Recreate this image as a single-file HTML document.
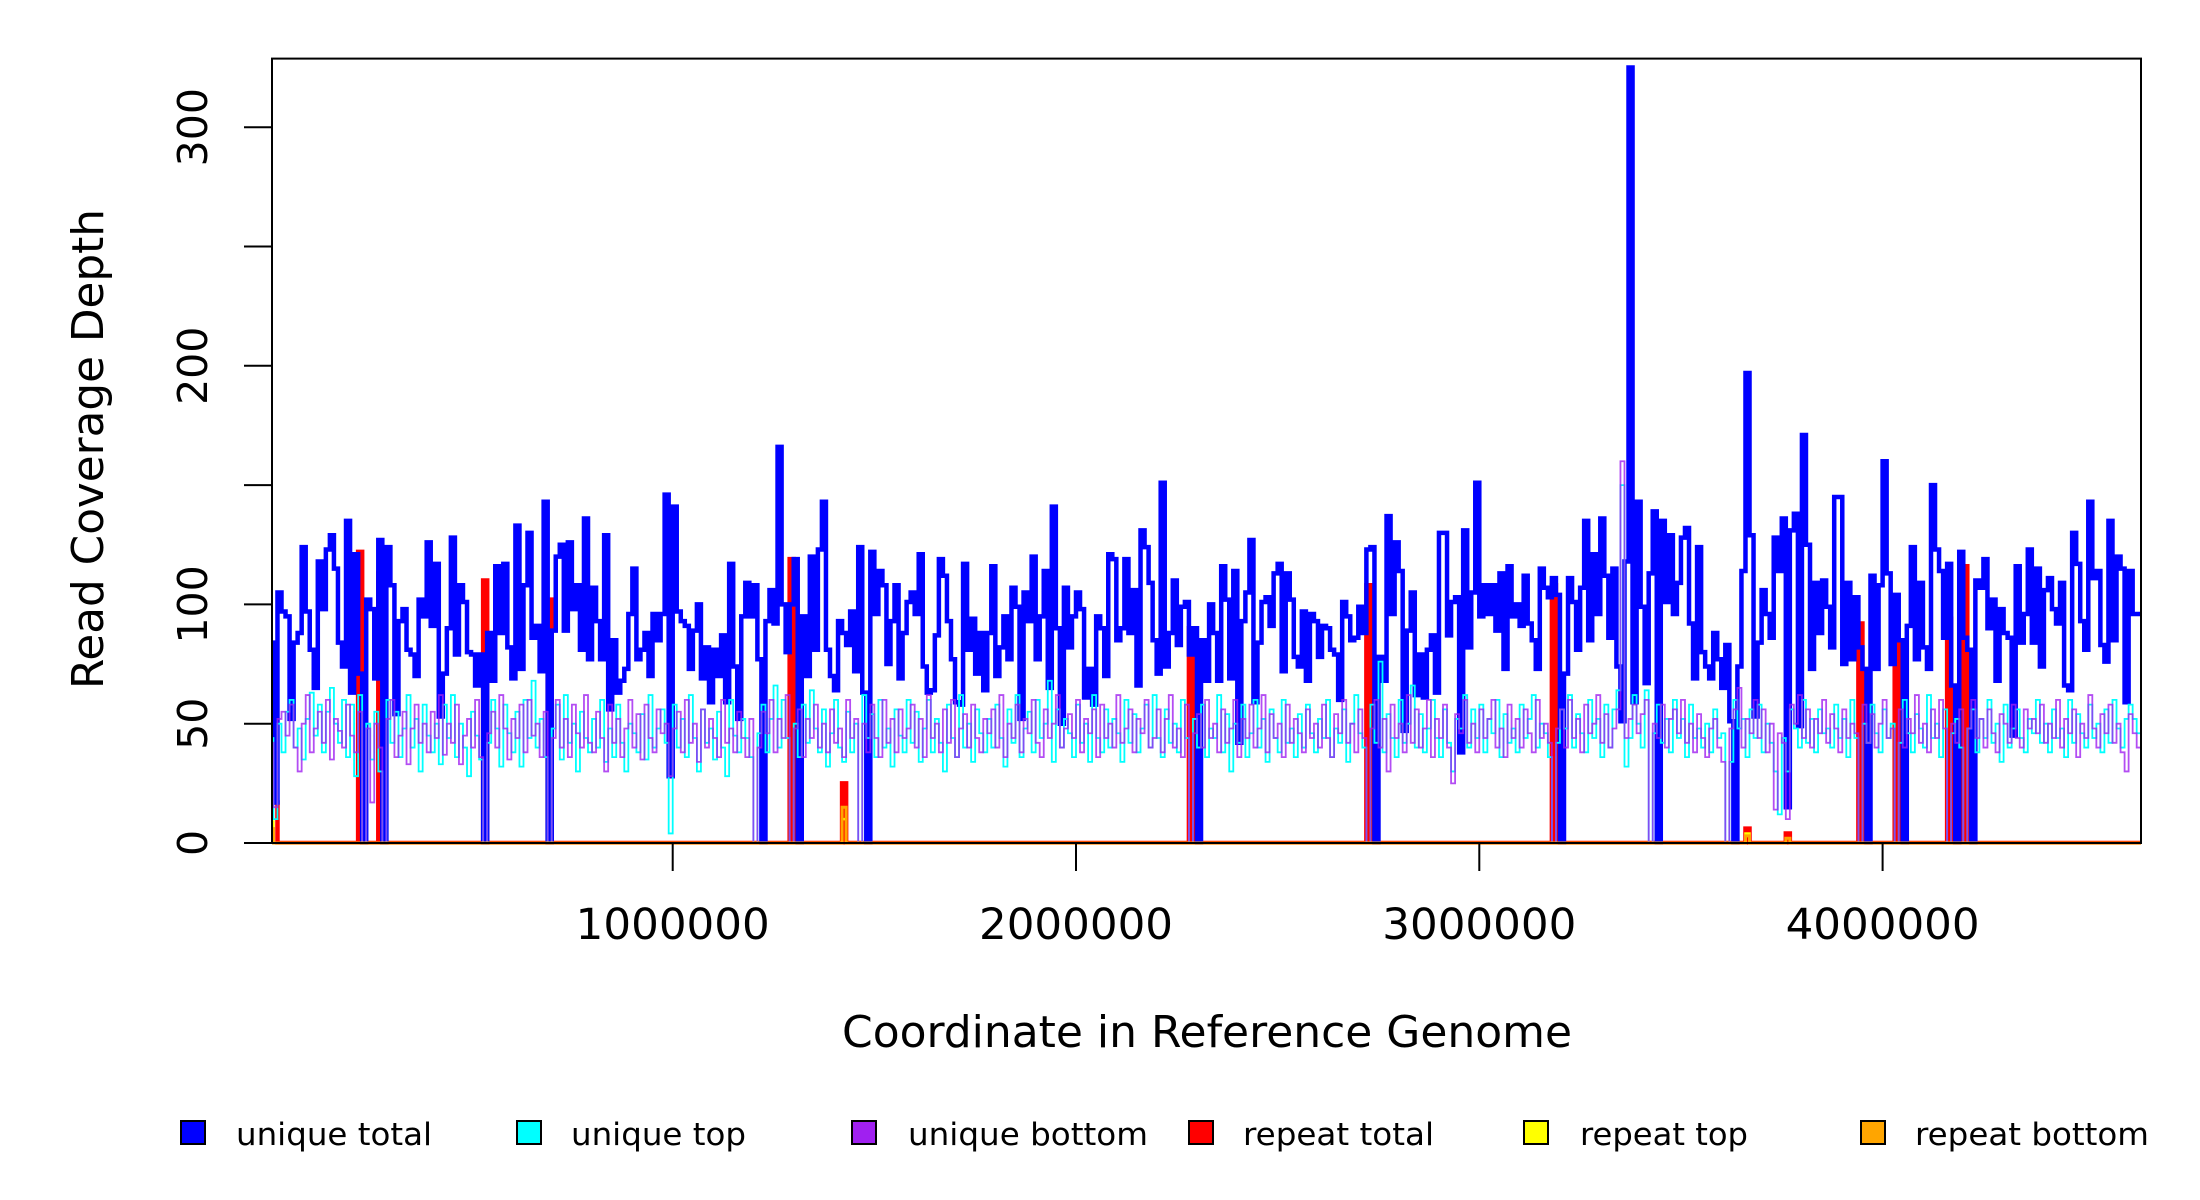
<!DOCTYPE html>
<html><head><meta charset="utf-8"><style>
html,body{margin:0;padding:0;background:#fff;}
svg{display:block;}
text{font-family:"DejaVu Sans","Liberation Sans",sans-serif;fill:#000;}
</style></head><body>
<svg id="chart" width="2200" height="1200" viewBox="0 0 2200 1200" xmlns="http://www.w3.org/2000/svg">
<defs><clipPath id="plotclip"><rect x="272" y="58.6" width="1869" height="786"/></clipPath></defs>
<g id="series" clip-path="url(#plotclip)"></g>
<rect x="272" y="58.6" width="1869" height="784.4" fill="none" stroke="#000" stroke-width="2"/>
<g id="yaxis"></g>
<g id="xaxis"></g>
<text transform="translate(103,449) rotate(-90)" text-anchor="middle" font-size="44" textLength="480" lengthAdjust="spacingAndGlyphs">Read Coverage Depth</text>
<text x="1207" y="1047" text-anchor="middle" font-size="44" textLength="730" lengthAdjust="spacingAndGlyphs">Coordinate in Reference Genome</text>
<g id="legend"></g>
</svg>
<script>
const binSize = 10000;
const yTicks = [0, 50, 100, 150, 200, 250, 300];
const yTickLabels = ["0", "50", "100", "", "200", "", "300"];
const xTicks = [1000000, 2000000, 3000000, 4000000];
const xTickLabels = ["1000000", "2000000", "3000000", "4000000"];
const seriesNames = ["unique total", "unique top", "unique bottom", "repeat total", "repeat top", "repeat bottom"];
const seriesColors = ["#0000ff", "#00ffff", "#a020f0", "#ff0000", "#ffff00", "#ffa500"];

const uniqueTotal = [
84,17,105,97,95,52,84,88,124,97,81,65,118,98,123,129,115,84,74,135,
63,121,71,0,102,98,69,127,0,124,108,54,93,98,81,79,70,102,95,126,
91,117,53,71,90,128,79,108,101,80,79,66,79,0,88,68,116,88,117,82,
69,133,73,108,130,86,91,72,143,0,89,120,125,89,126,98,108,81,136,77,
107,93,77,129,56,85,63,68,73,96,115,77,81,88,70,96,85,96,146,28,
141,97,93,91,73,89,100,69,82,59,81,70,87,59,117,74,52,95,109,
95,108,77,0,93,106,92,166,100,80,100,119,0,95,70,120,81,123,143,
81,70,64,93,88,83,97,72,124,63,0,122,96,114,108,75,93,108,69,88,
101,105,96,121,74,63,64,87,119,112,93,77,59,58,117,81,94,71,88,64,
88,116,70,82,95,77,107,99,52,105,93,120,77,95,114,65,141,90,50,107,
82,95,105,98,61,73,58,95,90,70,121,119,85,90,119,88,106,66,131,124,
109,85,71,151,74,88,110,83,99,101,79,90,0,85,68,100,88,68,116,102,
69,114,42,93,105,127,59,84,101,103,91,113,117,72,113,102,78,74,97,68,
96,93,78,91,90,81,79,60,101,95,85,86,99,88,123,124,0,78,68,137,
96,126,114,47,89,105,62,79,61,81,87,63,130,130,87,101,103,38,131,82,
105,151,95,108,96,108,89,113,73,116,95,100,91,112,92,85,73,115,107,103,
111,104,0,71,111,101,81,107,135,85,121,96,136,112,86,115,74,51,118,325,
59,143,99,67,113,139,0,135,101,129,96,109,128,132,92,69,124,80,74,69,
88,77,65,83,51,0,74,114,197,129,53,84,106,96,86,128,114,136,15,131,
138,49,171,125,73,109,88,110,99,82,145,145,75,109,77,103,82,73,0,112,
73,108,160,113,75,104,85,0,91,124,77,109,82,73,150,123,114,86,117,66,
0,122,86,81,0,110,107,119,90,102,68,98,88,86,45,116,84,96,123,84,
115,74,106,111,98,92,109,66,64,130,117,93,81,143,111,114,83,76,135,85,
120,115,59,114,96,96,96,60
];
const uniqueTop = [
44,10,50,38,55,60,40,48,35,52,63,45,58,38,55,65,50,42,60,36,
58,28,62,0,50,35,55,30,0,60,42,55,36,48,62,40,52,30,58,45,
38,50,33,58,44,62,36,50,40,28,55,45,35,0,42,60,48,32,58,46,
38,55,32,60,44,68,40,52,36,0,48,58,35,62,42,50,30,55,44,38,
52,40,60,34,48,36,58,42,30,50,46,38,54,35,62,40,48,56,42,4,
58,40,52,36,62,44,30,56,42,48,35,55,40,28,60,45,38,52,44,36,
0,46,58,38,52,66,40,60,44,0,50,36,58,42,64,48,38,56,32,
46,60,40,34,55,38,50,0,62,44,54,36,60,40,48,32,56,45,38,60,
42,55,34,48,60,38,52,42,30,58,44,36,62,40,50,34,56,46,38,52,
40,58,44,32,56,42,62,36,48,55,38,60,44,50,68,34,56,40,52,46,
36,58,42,50,34,62,44,38,56,40,52,46,34,60,42,54,38,48,58,40,
62,44,36,56,42,50,38,60,44,0,52,40,58,36,48,44,62,38,54,30,
50,42,58,36,46,60,40,52,34,56,44,38,60,42,48,36,54,40,58,46,
38,52,44,60,36,48,42,56,34,50,62,46,40,0,58,42,76,38,54,44,
36,60,42,50,66,40,54,38,48,60,44,36,56,42,30,52,48,62,40,56,
44,58,38,52,46,60,36,54,42,48,38,58,44,52,62,40,50,46,36,0,
42,56,48,62,40,54,46,38,60,44,52,36,58,40,56,64,150,32,44,62,
50,40,64,0,46,58,42,52,38,60,44,52,36,58,44,48,40,50,38,56,
44,46,0,34,60,48,52,36,56,44,58,38,50,42,30,12,44,30,56,48,
40,60,42,52,38,56,46,48,40,58,44,52,36,60,44,0,50,42,58,46,
38,56,44,50,0,42,60,46,38,54,48,40,62,44,50,36,56,0,46,52,
40,0,48,56,38,52,44,60,42,50,34,58,40,48,56,44,38,52,46,60,
42,50,38,56,44,48,36,60,42,54,46,40,58,44,50,38,56,42,60,48,
40,52,58,52,46
];
const uniqueBottom = [
42,15,52,55,45,58,40,30,50,62,38,48,55,42,60,35,52,47,40,58,
45,38,55,0,48,17,50,40,0,52,60,36,45,55,33,48,58,42,50,38,
55,44,62,37,50,42,58,33,45,52,40,60,36,0,46,55,40,62,48,35,
52,44,58,38,60,45,50,36,55,0,44,60,40,52,36,58,46,40,62,42,
38,55,44,30,58,42,52,36,48,60,40,54,35,58,44,38,56,46,50,28,
48,55,38,60,42,50,34,56,40,52,44,36,60,42,48,38,55,44,36,52,
0,40,55,46,60,38,52,44,62,0,48,56,36,52,44,58,40,50,38,
56,42,48,36,60,44,52,0,50,38,58,44,36,60,42,52,38,56,44,48,
58,40,52,36,62,44,50,38,56,42,60,36,48,54,40,58,44,38,52,46,
56,40,62,36,50,44,58,38,52,46,60,42,36,56,44,50,62,40,48,54,
44,60,38,52,46,56,36,58,44,50,40,62,42,48,56,38,52,46,60,40,
44,56,38,52,62,40,48,36,58,0,46,54,40,60,44,50,38,56,42,48,
60,36,52,44,58,40,48,62,38,54,44,50,36,58,42,52,46,38,56,44,
50,40,58,44,36,54,46,60,42,50,38,56,44,0,48,60,40,52,30,58,
44,50,38,62,42,56,40,48,60,36,52,44,58,40,25,54,46,60,42,50,
38,56,44,52,60,40,48,36,58,44,52,40,56,46,38,60,44,50,42,0,
48,56,40,60,44,52,38,58,46,50,62,42,54,40,48,56,160,44,52,58,
46,54,60,0,50,44,58,40,52,56,46,60,42,50,38,54,44,36,48,52,
40,34,0,48,56,65,40,52,46,60,44,56,38,50,14,46,42,10,58,50,
62,44,56,40,52,46,60,42,54,48,38,56,44,50,46,0,58,42,54,40,
50,60,44,48,0,56,40,52,46,62,42,50,38,56,44,60,48,0,50,42,
56,0,48,60,44,52,40,56,46,38,54,50,42,58,44,40,56,48,52,46,
58,42,50,44,60,40,52,46,56,36,50,44,62,48,40,54,46,58,42,50,
38,30,54,46,40
];
const repeatTotalBins = [0,1,22,27,53,69,129,142,228,272,318,366,376,394,403,416,420];
const repeatTotalVals = [17,17,122,113,110,102,119,25,90,108,108,6,4,92,95,94,116];
const repeatTopBins = [0,142,366,376];
const repeatTopVals = [9,10,4,2];
const repeatBottomBins = [0,142,366,376];
const repeatBottomVals = [6,15,3,2];

const NS = "http://www.w3.org/2000/svg";
const X0 = 269.4, PX_PER_BP = 403.3e-6, Y0 = 843, PX_PER_UNIT = 2.386;
function xScale(bp){ return X0 + bp * PX_PER_BP; }
function yScale(v){ return Y0 - v * PX_PER_UNIT; }
function mk(tag, attrs){ const e=document.createElementNS(NS,tag); for(const k in attrs) e.setAttribute(k,attrs[k]); return e; }
const nBins = uniqueTotal.length;
function dense(bins, vals){ const a=new Array(nBins).fill(0); bins.forEach((b,i)=>{a[b]=vals[i];}); return a; }
function stepPath(vals){
  let d = "M" + xScale(0).toFixed(2) + "," + yScale(vals[0]).toFixed(2);
  for(let i=0;i<vals.length;i++){
    if(i>0) d += "V" + yScale(vals[i]).toFixed(2);
    d += "H" + xScale((i+1)*binSize).toFixed(2);
  }
  return d;
}
const seriesLayer = document.getElementById("series");
const layers = [
  {vals: dense(repeatTotalBins, repeatTotalVals), color: seriesColors[3], w: 4.5, name: "repeat-total-line"},
  {vals: uniqueTotal, color: seriesColors[0], w: 4.5, name: "unique-total-line"},
  {vals: uniqueTop, color: seriesColors[1], w: 1.8, name: "unique-top-line"},
  {vals: uniqueBottom, color: seriesColors[2], w: 1.8, name: "unique-bottom-line", op: 0.8},
  {vals: dense(repeatTopBins, repeatTopVals), color: seriesColors[4], w: 2.5, name: "repeat-top-line"},
  {vals: dense(repeatBottomBins, repeatBottomVals), color: seriesColors[5], w: 3, name: "repeat-bottom-line"}
];
layers.forEach(L=>{
  const p = mk("path", {d: stepPath(L.vals), fill:"none", stroke:L.color, "stroke-width":L.w, "stroke-linejoin":"miter", "stroke-opacity": L.op||1});
  
  
  seriesLayer.appendChild(p);
});
const yAxis = document.getElementById("yaxis");
yTicks.forEach((t,i)=>{
  const y = yScale(t);
  const ln = mk("line",{x1:244,x2:272,y1:y,y2:y,stroke:"#000","stroke-width":2});
  
  
  yAxis.appendChild(ln);
  if(yTickLabels[i]){
    const tx = mk("text",{transform:"translate(207,"+y+") rotate(-90)","text-anchor":"middle","font-size":"41"});
    
    
    tx.textContent = yTickLabels[i];
    yAxis.appendChild(tx);
  }
});
const xAxis = document.getElementById("xaxis");
xTicks.forEach((t,i)=>{
  const x = xScale(t);
  const ln = mk("line",{x1:x,x2:x,y1:843,y2:871,stroke:"#000","stroke-width":2});
  
  
  xAxis.appendChild(ln);
  const tx = mk("text",{x:x,y:939,"text-anchor":"middle","font-size":"43",textLength:"194",lengthAdjust:"spacingAndGlyphs"});
  
  
  tx.textContent = xTickLabels[i];
  xAxis.appendChild(tx);
});
const legend = document.getElementById("legend");
const legSq = [193, 529, 864, 1201, 1536, 1873];
const legTx = [236, 571, 908, 1243, 1580, 1915];
const legW = [196, 175, 240, 191, 168, 234];
seriesNames.forEach((n,i)=>{
  const r = mk("rect",{x:legSq[i]-12,y:1121,width:24,height:23,fill:seriesColors[i],stroke:"#000","stroke-width":2});
  
  
  legend.appendChild(r);
  const t = mk("text",{x:legTx[i],y:1145,"font-size":"31",textLength:legW[i],lengthAdjust:"spacingAndGlyphs"});
  
  
  t.textContent = n;
  legend.appendChild(t);
});
</script>
</body></html>
